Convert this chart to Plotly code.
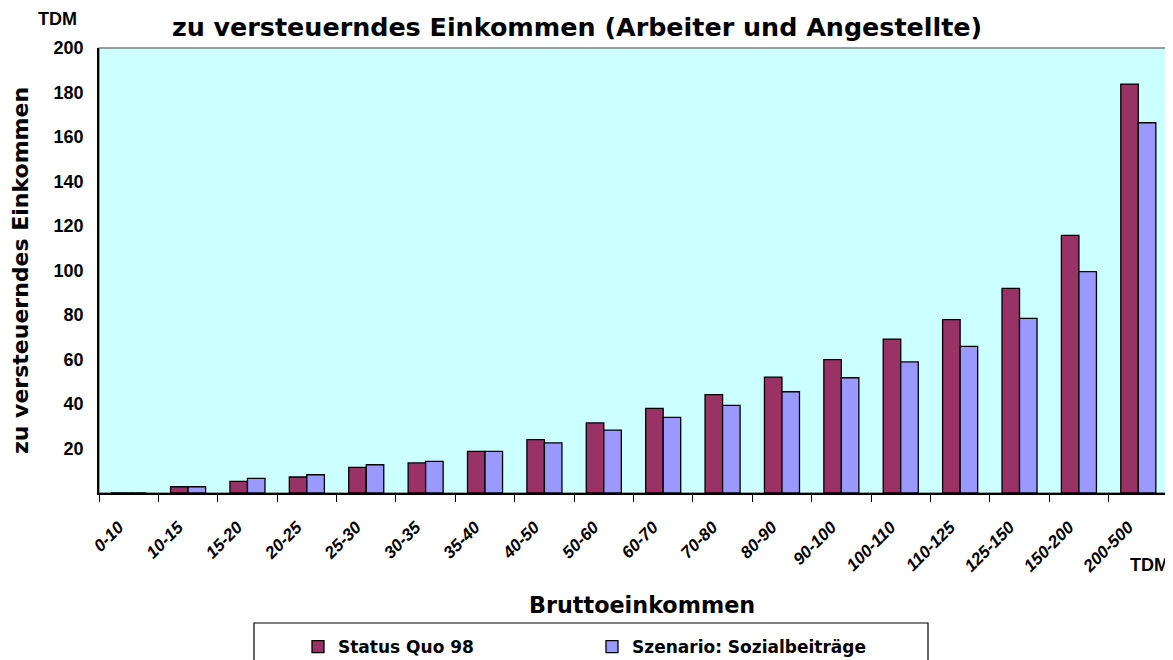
import plotly.graph_objects as go

categories = ["0-10", "10-15", "15-20", "20-25", "25-30", "30-35", "35-40", "40-50",
              "50-60", "60-70", "70-80", "80-90", "90-100", "100-110", "110-125",
              "125-150", "150-200", "200-500"]
status_quo = [0, 2.8, 5.2, 7.2, 11.5, 13.5, 18.7, 24.0, 31.5, 38.0, 44.2, 52.1,
              59.9, 69.2, 77.9, 92.0, 115.8, 183.8]
szenario = [0, 2.8, 6.6, 8.2, 12.7, 14.2, 18.7, 22.5, 28.3, 34.0, 39.4, 45.5,
            51.8, 58.9, 65.9, 78.5, 99.5, 166.4]
y_ticks = [20, 40, 60, 80, 100, 120, 140, 160, 180, 200]

# The page body has an 8px margin, so the figure is drawn 8px smaller and
# all target screen positions are converted with OFF.
OFF = 8
W, H = 1173 - OFF, 660 - OFF
ML, MR, MT, MB = 99 - OFF, 5, 48 - OFF, 660 - 493
PW, PH = W - ML - MR, H - MT - MB

ARIAL = "Liberation Sans, Arial, sans-serif"
WIDE = "DejaVu Sans, sans-serif"


def px(sx):  # screen x -> paper x
    return (sx - OFF - ML) / PW


def py(sy):  # screen y -> paper y
    return (H - MB - (sy - OFF)) / PH


def cx(sx):  # screen x -> container x
    return (sx - OFF) / W


def cy(sy):  # screen y -> container y
    return 1 - (sy - OFF) / H


fig = go.Figure()
fig.add_trace(go.Bar(x=categories, y=status_quo, name="Status Quo 98",
                     marker=dict(color="#993366", line=dict(color="black", width=1.3))))
fig.add_trace(go.Bar(x=categories, y=szenario, name="Szenario: Sozialbeiträge",
                     marker=dict(color="#9999FF", line=dict(color="black", width=1.3))))

# plot area frame (grey)
fig.add_shape(type="rect", xref="paper", yref="paper", x0=0, x1=1, y0=0, y1=1,
              line=dict(color="#808080", width=1.5), fillcolor="rgba(0,0,0,0)", layer="below")
# legend box
fig.add_shape(type="rect", xref="paper", yref="paper",
              x0=px(254), x1=px(928), y0=py(672), y1=py(623),
              line=dict(color="black", width=1.2), fillcolor="white", layer="above")

fig.add_annotation(text="TDM", xref="paper", yref="paper", x=px(57), y=py(19),
                   showarrow=False, xanchor="center", yanchor="middle",
                   font=dict(family=ARIAL, size=18, color="black", weight="bold"))
fig.add_annotation(text="TDM", xref="paper", yref="paper", x=px(1149), y=py(565),
                   showarrow=False, xanchor="center", yanchor="middle",
                   font=dict(family=ARIAL, size=18, color="black", weight="bold"))
fig.add_annotation(text="Bruttoeinkommen", xref="paper", yref="paper",
                   x=px(642), y=py(605), showarrow=False, xanchor="center", yanchor="middle",
                   font=dict(family=WIDE, size=22.3, color="black", weight="bold"))

fig.update_layout(
    width=W, height=H,
    margin=dict(l=ML, r=MR, t=MT, b=MB, autoexpand=False),
    paper_bgcolor="white", plot_bgcolor="#CCFFFF",
    barmode="group", bargap=0.41, bargroupgap=0,
    title=dict(text="zu versteuerndes Einkommen (Arbeiter und Angestellte)",
               x=cx(577), xanchor="center", xref="container",
               y=cy(27), yanchor="middle", yref="container",
               font=dict(family=WIDE, size=25.4, color="black", weight="bold")),
    showlegend=True,
    legend=dict(orientation="h", xref="container", yref="container",
                x=cx(298), xanchor="left", y=cy(647), yanchor="middle",
                bgcolor="rgba(0,0,0,0)", borderwidth=0,
                entrywidth=249, entrywidthmode="pixels",
                font=dict(family=WIDE, size=17, color="black", weight="bold"),
                traceorder="normal"),
    xaxis=dict(type="category", tickson="boundaries", ticks="outside", ticklen=7,
               tickcolor="black", tickwidth=1, showline=True, linecolor="black",
               linewidth=1.5, showgrid=False, zeroline=False, tickangle=-45,
               ticklabelshift=-10, ticklabelstandoff=16,
               tickfont=dict(family=ARIAL, size=17, color="black", weight="bold", style="italic")),
    yaxis=dict(range=[0, 200], tickvals=y_ticks, ticks="", showline=True,
               linecolor="black", linewidth=1.5, showgrid=False, zeroline=False,
               ticklabelstandoff=10,
               tickfont=dict(family=ARIAL, size=18, color="black", weight="bold"),
               title=dict(text="zu versteuerndes Einkommen", standoff=19,
                          font=dict(family=WIDE, size=22, color="black", weight="bold"))),
)

fig.write_html("out.html")
